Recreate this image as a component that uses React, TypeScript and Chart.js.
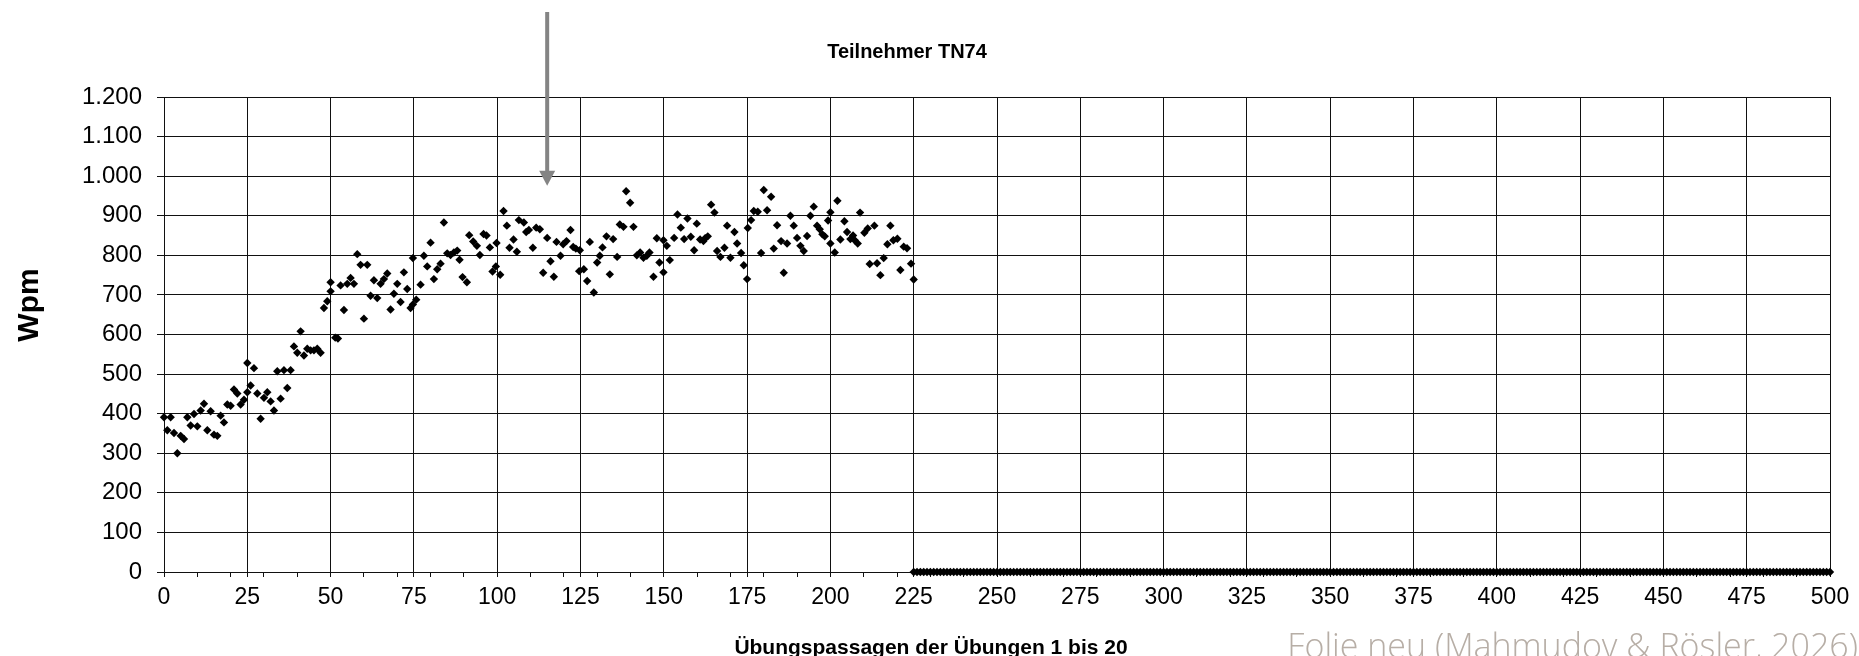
import { useEffect, useRef } from 'react';
import { Chart, registerables } from 'chart.js';

Chart.register(...registerables);

// ---- Data ----
const passages = [
  0, 1, 2, 3, 4, 5, 6, 7, 8, 9, 10, 11, 12, 13, 14, 15, 16, 17, 18, 19,
  20, 21, 22, 23, 24, 25, 25, 26, 27, 28, 29, 30, 31, 32, 33, 34, 35, 36, 37, 38,
  39, 40, 41, 42, 43, 44, 45, 46, 47, 48, 49, 50, 50, 51.4, 52.2, 53, 54, 55, 56, 57,
  58, 59, 60, 61, 62, 63, 64, 65, 66, 67, 68, 69, 70, 71, 72, 73, 74, 74.7, 74.7, 75.7,
  77, 78, 79, 80, 81, 82, 83, 84, 85, 86, 87, 88, 88.7, 89.6, 90.9, 91.6, 92.8, 93.9, 94.8, 95.9,
  96.8, 97.8, 98.6, 99.6, 99.8, 100.9, 101.9, 102.9, 103.7, 104.9, 105.9, 106.5, 108, 108.7, 109.5, 110.7, 111.7, 112.8, 113.8, 115,
  116, 117, 117.8, 119, 119.8, 120.8, 122, 122.8, 123.6, 124.6, 124.8, 126, 127, 127.8, 129, 130, 130.8, 131.6, 132.8, 133.8,
  134.8, 136, 136.8, 137.9, 138.7, 139.9, 140.9, 141.9, 142.9, 143.9, 144.9, 145.7, 146.9, 147.9, 148.7, 149.9, 149.9, 150.9, 151.8, 153.1,
  154.1, 155.1, 156.1, 157.1, 158.1, 159.1, 159.9, 160.9, 161.9, 162.4, 163.2, 164.2, 165.2, 166, 167, 168.2, 169, 170, 171.2, 172,
  173.2, 174, 175, 175.2, 176.2, 177, 178.2, 179.2, 180, 181, 182.2, 183, 184, 185.2, 186, 187, 188, 189, 190, 191,
  192, 193, 194, 195, 196, 196.8, 197.6, 198.3, 199.3, 200, 200, 201.3, 202.1, 203, 204.2, 205, 206, 206.8, 207.3, 208.2,
  208.9, 210.2, 211.2, 211.8, 213.2, 214, 215, 216, 217.1, 218, 218.9, 220.1, 221, 222, 223, 224.2, 225,
];

const wpm = [
  391, 358, 391, 351, 300, 344, 336, 391, 370, 399, 368, 408, 425, 358, 406, 347, 344, 395, 378, 423,
  420, 461, 451, 423, 435, 454, 528, 471, 515, 451, 387, 440, 454, 431, 408, 507, 438, 510, 465, 510,
  570, 554, 608, 547, 564, 560, 560, 564, 554, 667, 684, 709, 732, 592, 590, 724, 662, 728, 743, 728,
  803, 776, 640, 776, 698, 737, 692, 728, 740, 754, 663, 703, 728, 682, 757, 715, 667, 676, 793, 688,
  726, 799, 772, 832, 740, 765, 779, 883, 805, 801, 807, 812, 789, 745, 732, 851, 835, 824, 801, 854,
  850, 820, 759, 772, 831, 751, 912, 875, 819, 840, 809, 889, 883, 859, 864, 819, 870, 866, 756, 844,
  785, 746, 834, 799, 828, 836, 864, 821, 817, 760, 813, 765, 735, 834, 706, 782, 799, 820, 848, 752,
  841, 796, 878, 872, 962, 933, 872, 800, 807, 794, 799, 807, 746, 843, 782, 757, 838, 824, 788, 844,
  903, 870, 841, 893, 847, 813, 880, 840, 836, 843, 848, 928, 908, 811, 796, 819, 875, 794, 859, 830,
  806, 775, 740, 869, 889, 912, 910, 806, 965, 914, 948, 817, 876, 836, 756, 830, 900, 875, 844, 824,
  811, 849, 900, 923, 875, 866, 853, 848, 888, 909, 830, 807, 938, 840, 886, 859, 841, 850, 838, 830,
  908, 857, 868, 778, 875, 780, 750, 793, 828, 875, 838, 842, 763, 822, 818, 779, 739,
];

const zeroPassages = [
  225, 226, 227, 228, 229, 230, 231, 232, 233, 234, 235, 236, 237, 238, 239, 240, 241, 242, 243, 244, 245, 246, 247, 248, 249,
  250, 251, 252, 253, 254, 255, 256, 257, 258, 259, 260, 261, 262, 263, 264, 265, 266, 267, 268, 269, 270, 271, 272, 273, 274,
  275, 276, 277, 278, 279, 280, 281, 282, 283, 284, 285, 286, 287, 288, 289, 290, 291, 292, 293, 294, 295, 296, 297, 298, 299,
  300, 301, 302, 303, 304, 305, 306, 307, 308, 309, 310, 311, 312, 313, 314, 315, 316, 317, 318, 319, 320, 321, 322, 323, 324,
  325, 326, 327, 328, 329, 330, 331, 332, 333, 334, 335, 336, 337, 338, 339, 340, 341, 342, 343, 344, 345, 346, 347, 348, 349,
  350, 351, 352, 353, 354, 355, 356, 357, 358, 359, 360, 361, 362, 363, 364, 365, 366, 367, 368, 369, 370, 371, 372, 373, 374,
  375, 376, 377, 378, 379, 380, 381, 382, 383, 384, 385, 386, 387, 388, 389, 390, 391, 392, 393, 394, 395, 396, 397, 398, 399,
  400, 401, 402, 403, 404, 405, 406, 407, 408, 409, 410, 411, 412, 413, 414, 415, 416, 417, 418, 419, 420, 421, 422, 423, 424,
  425, 426, 427, 428, 429, 430, 431, 432, 433, 434, 435, 436, 437, 438, 439, 440, 441, 442, 443, 444, 445, 446, 447, 448, 449,
  450, 451, 452, 453, 454, 455, 456, 457, 458, 459, 460, 461, 462, 463, 464, 465, 466, 467, 468, 469, 470, 471, 472, 473, 474,
  475, 476, 477, 478, 479, 480, 481, 482, 483, 484, 485, 486, 487, 488, 489, 490, 491, 492, 493, 494, 495, 496, 497, 498, 499,
  500,
];

const zeroWpm = [
  0, 0, 0, 0, 0, 0, 0, 0, 0, 0, 0, 0, 0, 0, 0, 0, 0, 0, 0, 0, 0, 0, 0, 0, 0,
  0, 0, 0, 0, 0, 0, 0, 0, 0, 0, 0, 0, 0, 0, 0, 0, 0, 0, 0, 0, 0, 0, 0, 0, 0,
  0, 0, 0, 0, 0, 0, 0, 0, 0, 0, 0, 0, 0, 0, 0, 0, 0, 0, 0, 0, 0, 0, 0, 0, 0,
  0, 0, 0, 0, 0, 0, 0, 0, 0, 0, 0, 0, 0, 0, 0, 0, 0, 0, 0, 0, 0, 0, 0, 0, 0,
  0, 0, 0, 0, 0, 0, 0, 0, 0, 0, 0, 0, 0, 0, 0, 0, 0, 0, 0, 0, 0, 0, 0, 0, 0,
  0, 0, 0, 0, 0, 0, 0, 0, 0, 0, 0, 0, 0, 0, 0, 0, 0, 0, 0, 0, 0, 0, 0, 0, 0,
  0, 0, 0, 0, 0, 0, 0, 0, 0, 0, 0, 0, 0, 0, 0, 0, 0, 0, 0, 0, 0, 0, 0, 0, 0,
  0, 0, 0, 0, 0, 0, 0, 0, 0, 0, 0, 0, 0, 0, 0, 0, 0, 0, 0, 0, 0, 0, 0, 0, 0,
  0, 0, 0, 0, 0, 0, 0, 0, 0, 0, 0, 0, 0, 0, 0, 0, 0, 0, 0, 0, 0, 0, 0, 0, 0,
  0, 0, 0, 0, 0, 0, 0, 0, 0, 0, 0, 0, 0, 0, 0, 0, 0, 0, 0, 0, 0, 0, 0, 0, 0,
  0, 0, 0, 0, 0, 0, 0, 0, 0, 0, 0, 0, 0, 0, 0, 0, 0, 0, 0, 0, 0, 0, 0, 0, 0,
  0,
];

// Axis ranges / ticks
const X_MIN = 0;
const X_MAX = 500;
const X_LABEL_STEP = 25;
const X_MINOR_STEP = 10;
const Y_MIN = 0;
const Y_MAX = 1200;
const Y_STEP = 100;

// Texts
const TITLE = 'Teilnehmer TN74';
const Y_TITLE = 'Wpm';
const X_TITLE = 'Übungspassagen der Übungen 1 bis 20';
const FOOTER = 'Folie neu (Mahmudov & Rösler, 2026)';

// Arrow annotation (in data units)
const ARROW_PASSAGE = 115;
const ARROW_FROM_WPM = 1415;
const ARROW_TO_WPM = 976;

const FONT = '"Liberation Sans", Arial, Helvetica, sans-serif';
const GRID = '#111111';
const CLEAR = 'rgba(0,0,0,0)';

function formatDe(v: number): string {
  if (v >= 1000) {
    const th = Math.floor(v / 1000);
    const rest = String(v % 1000).padStart(3, '0');
    return `${th}.${rest}`;
  }
  return String(v);
}

function zip(xs: number[], ys: number[]) {
  const n = Math.min(xs.length, ys.length);
  const out: { x: number; y: number }[] = [];
  for (let i = 0; i < n; i++) out.push({ x: xs[i], y: ys[i] });
  return out;
}

const overlayPlugin = {
  id: 'overlayTexts',
  afterDraw(chart: any) {
    const ctx: CanvasRenderingContext2D = chart.ctx;
    const xs = chart.scales.x;
    const ys = chart.scales.y;
    ctx.save();

    // Arrow
    const ax = xs.getPixelForValue(ARROW_PASSAGE);
    const yTop = ys.getPixelForValue(ARROW_FROM_WPM);
    const yTip = ys.getPixelForValue(ARROW_TO_WPM);
    ctx.strokeStyle = '#848484';
    ctx.fillStyle = '#848484';
    ctx.lineWidth = 4;
    ctx.beginPath();
    ctx.moveTo(ax, yTop);
    ctx.lineTo(ax, yTip - 14);
    ctx.stroke();
    ctx.beginPath();
    ctx.moveTo(ax - 8, yTip - 15);
    ctx.lineTo(ax + 8, yTip - 15);
    ctx.lineTo(ax, yTip);
    ctx.closePath();
    ctx.fill();

    // Title
    ctx.fillStyle = '#000';
    ctx.textAlign = 'center';
    ctx.textBaseline = 'middle';
    ctx.font = `bold 20px ${FONT}`;
    ctx.fillText(TITLE, 907, 52);

    // Y title
    ctx.save();
    ctx.translate(30, 305);
    ctx.rotate(-Math.PI / 2);
    ctx.font = `bold 30px ${FONT}`;
    ctx.fillText(Y_TITLE, 0, 0);
    ctx.restore();

    // X title
    ctx.font = `bold 21px ${FONT}`;
    ctx.fillText(X_TITLE, 931, 648);

    // Footer
    ctx.font = `300 34px "Open Sans", "Noto Sans", sans-serif`;
    ctx.fillStyle = '#b7aea6';
    ctx.textAlign = 'right';
    ctx.textBaseline = 'alphabetic';
    ctx.fillText(FOOTER, 1858, 658);

    ctx.restore();
  },
};

export default function App() {
  const ref = useRef<HTMLCanvasElement>(null);

  useEffect(() => {
    const canvas = ref.current;
    if (!canvas) return;
    const pointStyle = {
      pointStyle: 'rectRot' as const,
      pointRadius: 4.2,
      pointHoverRadius: 4.2,
      pointBackgroundColor: '#000',
      pointBorderColor: '#000',
      pointBorderWidth: 0,
      showLine: false,
      clip: false as const,
    };
    const chart = new Chart(canvas, {
      type: 'scatter',
      data: {
        datasets: [
          { label: 'TN74', data: zip(passages, wpm), ...pointStyle },
          { label: 'ohne Daten', data: zip(zeroPassages, zeroWpm), ...pointStyle },
        ],
      },
      options: {
        responsive: false,
        animation: false,
        devicePixelRatio: 1,
        layout: { padding: { top: 97, right: 29, bottom: 0, left: 0 } },
        plugins: {
          legend: { display: false },
          title: { display: false },
          tooltip: { enabled: false },
        },
        scales: {
          x: {
            type: 'linear',
            min: X_MIN,
            max: X_MAX,
            border: { display: true, color: GRID, width: 1 },
            grid: {
              color: (c: any) => (c.tick && c.tick.value % X_LABEL_STEP === 0 ? GRID : CLEAR),
              tickColor: (c: any) =>
                c.tick && (c.tick.value % X_MINOR_STEP === 0 || c.tick.value % X_LABEL_STEP === 0) ? GRID : CLEAR,
              lineWidth: 1,
              tickLength: 5,
              drawTicks: true,
            },
            ticks: {
              stepSize: 5,
              autoSkip: false,
              maxRotation: 0,
              minRotation: 0,
              padding: 7,
              color: '#000',
              font: { family: FONT, size: 23 },
              callback: (v: any) => (Number(v) % X_LABEL_STEP === 0 ? String(v) : ''),
            },
            afterFit: (s: any) => {
              s.height = 84;
            },
          },
          y: {
            type: 'linear',
            min: Y_MIN,
            max: Y_MAX,
            border: { display: true, color: GRID, width: 1 },
            grid: { color: GRID, tickColor: GRID, lineWidth: 1, tickLength: 7 },
            ticks: {
              stepSize: Y_STEP,
              padding: 15,
              color: '#000',
              font: { family: FONT, size: 24 },
              callback: (v: any) => formatDe(Number(v)),
            },
            afterFit: (s: any) => {
              s.width = 164;
            },
          },
        },
      },
      plugins: [overlayPlugin],
    });
    return () => chart.destroy();
  }, []);

  return (
    <div style={{ position: 'absolute', left: 0, top: 0, width: 1859, height: 656, background: '#fff' }}>
      <canvas ref={ref} width={1859} height={656} style={{ display: 'block', width: 1859, height: 656 }} />
    </div>
  );
}
